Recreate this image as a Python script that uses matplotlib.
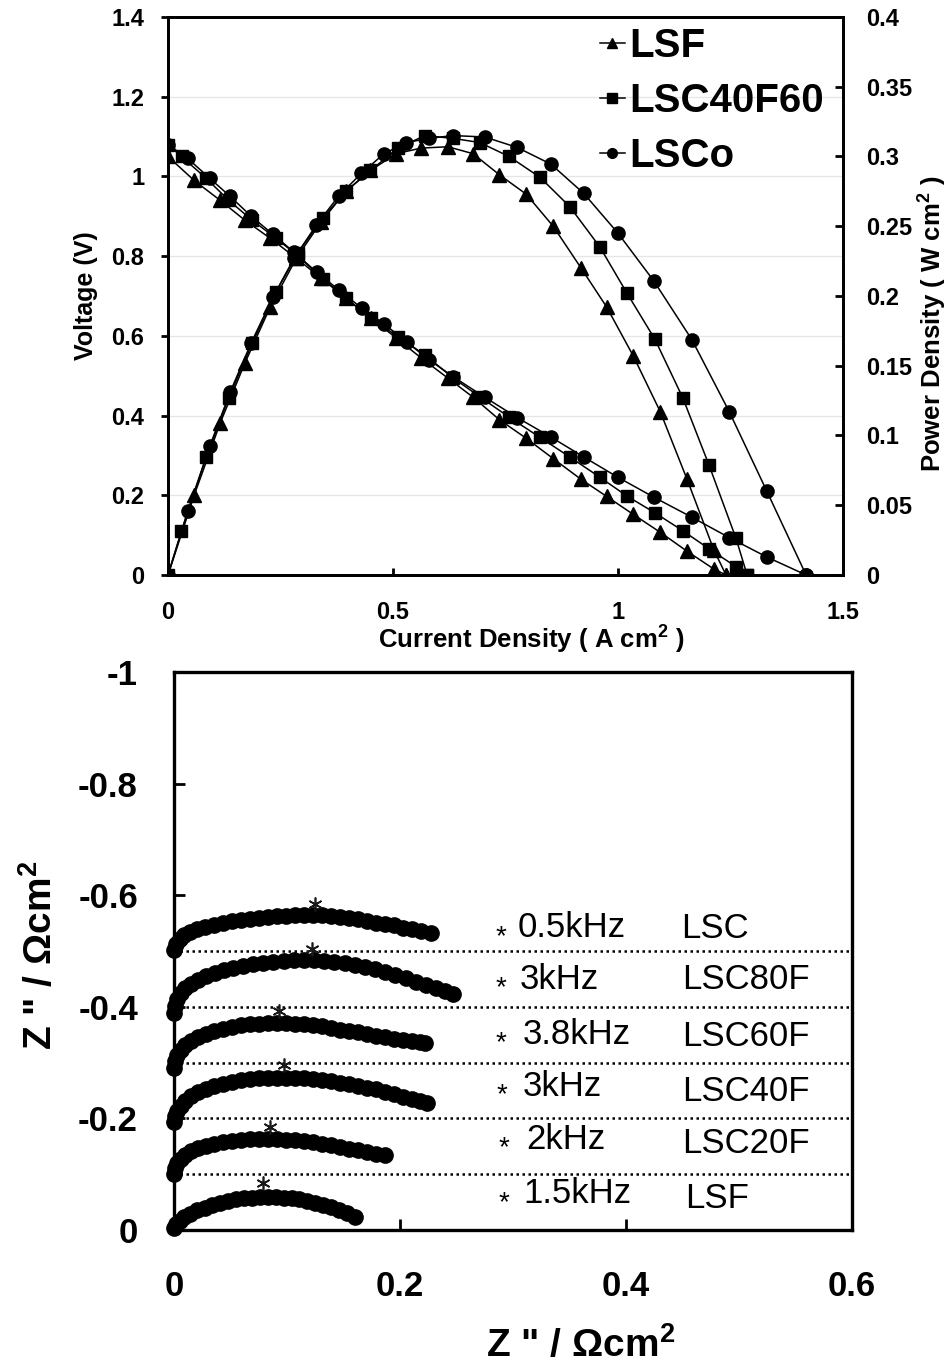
import matplotlib
matplotlib.use("Agg")
import matplotlib.pyplot as plt
from matplotlib.lines import Line2D
from matplotlib.ticker import FixedLocator, FuncFormatter

plt.rcParams['font.family'] = ['Liberation Sans', 'DejaVu Sans']
plt.rcParams['axes.unicode_minus'] = False
plt.rcParams['mathtext.fontset'] = 'custom'
plt.rcParams['mathtext.rm'] = 'Liberation Sans:bold'
plt.rcParams['mathtext.it'] = 'Liberation Sans:bold'
plt.rcParams['mathtext.bf'] = 'Liberation Sans:bold'
plt.rcParams['mathtext.default'] = 'rm'

# ---------------- I-V-P data (current A/cm2, voltage V, power W/cm2) ----------------
lsf_i = [0.0, 0.058, 0.116, 0.171, 0.227, 0.285, 0.34, 0.395, 0.45, 0.507, 0.562, 0.622,
         0.678, 0.736, 0.796, 0.856, 0.918, 0.975, 1.034, 1.094, 1.153, 1.213, 1.24]
lsf_v = [1.05, 0.99, 0.94, 0.89, 0.845, 0.795, 0.745, 0.695, 0.645, 0.595, 0.545, 0.494,
         0.446, 0.39, 0.343, 0.292, 0.24, 0.197, 0.152, 0.107, 0.06, 0.015, 0.0]
lsf_p = [0.0, 0.057, 0.109, 0.152, 0.192, 0.227, 0.253, 0.275, 0.29, 0.302, 0.306, 0.307,
         0.302, 0.287, 0.273, 0.25, 0.22, 0.192, 0.157, 0.117, 0.069, 0.018, 0.0]

lsc40_i = [0.0, 0.03, 0.085, 0.135, 0.187, 0.24, 0.289, 0.344, 0.395, 0.45, 0.511, 0.571,
           0.633, 0.693, 0.758, 0.827, 0.893, 0.96, 1.02, 1.082, 1.144, 1.202, 1.262, 1.287]
lsc40_v = [1.08, 1.05, 0.995, 0.94, 0.89, 0.845, 0.80, 0.743, 0.695, 0.645, 0.598, 0.552,
           0.495, 0.447, 0.396, 0.345, 0.296, 0.245, 0.198, 0.156, 0.111, 0.066, 0.021, 0.0]
lsc40_p = [0.0, 0.0315, 0.0846, 0.127, 0.166, 0.203, 0.231, 0.256, 0.275, 0.29, 0.306, 0.315,
           0.313, 0.31, 0.30, 0.285, 0.264, 0.235, 0.202, 0.169, 0.127, 0.079, 0.0265, 0.0]

lsco_i = [0.0, 0.044, 0.093, 0.138, 0.185, 0.233, 0.28, 0.33, 0.38, 0.43, 0.48, 0.53,
          0.58, 0.633, 0.704, 0.776, 0.851, 0.924, 1.0, 1.08, 1.164, 1.247, 1.331, 1.418]
lsco_v = [1.08, 1.045, 0.995, 0.95, 0.90, 0.855, 0.81, 0.76, 0.715, 0.67, 0.63, 0.585,
          0.54, 0.498, 0.446, 0.395, 0.346, 0.296, 0.245, 0.195, 0.145, 0.094, 0.045, 0.0]
lsco_p = [0.0, 0.046, 0.0925, 0.131, 0.1665, 0.199, 0.227, 0.251, 0.272, 0.288, 0.302, 0.31,
          0.313, 0.315, 0.314, 0.3065, 0.2945, 0.2735, 0.245, 0.2106, 0.1688, 0.1172, 0.0599, 0.0]

iv_labels = ['LSF', 'LSC40F60', 'LSCo']
iv_markers = ['^', 's', 'o']

# ---------------- impedance arcs (Z' and Z'' in ohm cm2) ----------------
lsc_zr = [0.000, 0.002, 0.005, 0.009, 0.014, 0.020, 0.027, 0.035, 0.043, 0.051, 0.059, 0.067,
          0.075, 0.083, 0.091, 0.099, 0.107, 0.115, 0.123, 0.131, 0.139, 0.147, 0.155, 0.163,
          0.171, 0.179, 0.187, 0.195, 0.203, 0.211, 0.219, 0.227]
lsc_zi = [-0.502, -0.512, -0.521, -0.528, -0.534, -0.539, -0.543, -0.547, -0.551, -0.554, -0.556,
          -0.558, -0.560, -0.561, -0.562, -0.563, -0.564, -0.564, -0.564, -0.564, -0.563, -0.561,
          -0.559, -0.557, -0.554, -0.551, -0.549, -0.546, -0.542, -0.539, -0.536, -0.533]

lsc80f_zr = [0.000, 0.001, 0.003, 0.006, 0.010, 0.015, 0.021, 0.028, 0.036, 0.044, 0.052, 0.061,
             0.070, 0.079, 0.088, 0.097, 0.106, 0.115, 0.124, 0.133, 0.142, 0.151, 0.160, 0.169,
             0.178, 0.187, 0.196, 0.205, 0.214, 0.223, 0.232, 0.240, 0.247]
lsc80f_zi = [-0.389, -0.402, -0.414, -0.424, -0.433, -0.441, -0.448, -0.455, -0.461, -0.466, -0.470,
             -0.474, -0.477, -0.479, -0.481, -0.482, -0.483, -0.483, -0.483, -0.482, -0.480, -0.478,
             -0.475, -0.471, -0.467, -0.462, -0.457, -0.451, -0.445, -0.439, -0.433, -0.428, -0.423]

lsc60f_zr = [0.000, 0.001, 0.003, 0.006, 0.010, 0.015, 0.021, 0.028, 0.035, 0.043, 0.051, 0.059,
             0.067, 0.075, 0.083, 0.091, 0.099, 0.107, 0.115, 0.123, 0.131, 0.139, 0.147, 0.155,
             0.163, 0.171, 0.179, 0.187, 0.195, 0.203, 0.211, 0.218, 0.222]
lsc60f_zi = [-0.291, -0.302, -0.313, -0.322, -0.331, -0.339, -0.346, -0.352, -0.357, -0.361, -0.364,
             -0.367, -0.369, -0.370, -0.371, -0.371, -0.371, -0.370, -0.369, -0.367, -0.365, -0.362,
             -0.359, -0.357, -0.354, -0.351, -0.348, -0.345, -0.343, -0.341, -0.339, -0.337, -0.336]

lsc40f_zr = [0.000, 0.001, 0.003, 0.006, 0.010, 0.015, 0.021, 0.028, 0.035, 0.043, 0.051, 0.059,
             0.067, 0.075, 0.083, 0.091, 0.099, 0.107, 0.115, 0.123, 0.131, 0.139, 0.147, 0.155,
             0.163, 0.171, 0.179, 0.187, 0.195, 0.203, 0.211, 0.218, 0.224]
lsc40f_zi = [-0.193, -0.204, -0.214, -0.223, -0.232, -0.240, -0.247, -0.253, -0.258, -0.262, -0.265,
             -0.268, -0.270, -0.272, -0.273, -0.273, -0.273, -0.273, -0.272, -0.271, -0.269, -0.267,
             -0.264, -0.261, -0.258, -0.255, -0.252, -0.248, -0.244, -0.239, -0.235, -0.231, -0.227]

lsc20f_zr = [0.000, 0.001, 0.003, 0.006, 0.010, 0.015, 0.021, 0.028, 0.035, 0.043, 0.051, 0.059,
             0.067, 0.075, 0.083, 0.091, 0.099, 0.107, 0.115, 0.123, 0.131, 0.139, 0.147, 0.155,
             0.163, 0.171, 0.179, 0.187]
lsc20f_zi = [-0.101, -0.111, -0.120, -0.128, -0.135, -0.141, -0.147, -0.151, -0.155, -0.158, -0.160,
             -0.162, -0.163, -0.163, -0.163, -0.163, -0.162, -0.161, -0.159, -0.157, -0.155, -0.152,
             -0.149, -0.146, -0.143, -0.140, -0.137, -0.134]

lsf_zr = [0.000, 0.002, 0.005, 0.009, 0.014, 0.020, 0.027, 0.034, 0.041, 0.048, 0.055, 0.062,
          0.069, 0.076, 0.083, 0.090, 0.097, 0.104, 0.111, 0.118, 0.125, 0.132, 0.139, 0.146,
          0.153, 0.160]
lsf_zi = [-0.003, -0.010, -0.017, -0.023, -0.029, -0.035, -0.040, -0.045, -0.049, -0.052, -0.055,
          -0.057, -0.058, -0.059, -0.059, -0.059, -0.058, -0.057, -0.055, -0.052, -0.049, -0.045,
          -0.041, -0.036, -0.030, -0.023]

# summit-frequency points on each arc
peak_zr = [0.125, 0.122, 0.093, 0.097, 0.085, 0.079]
peak_zi = [-0.584, -0.504, -0.393, -0.295, -0.184, -0.084]

eis_names = ['LSC', 'LSC80F', 'LSC60F', 'LSC40F', 'LSC20F', 'LSF']
eis_freqs = ['0.5kHz', '3kHz', '3.8kHz', '3kHz', '2kHz', '1.5kHz']
baseline_offsets = [-0.5, -0.4, -0.3, -0.2, -0.1]

W, H = 948, 1368
fig = plt.figure(figsize=(W / 100, H / 100), dpi=100)
fmt = FuncFormatter(lambda v, p: f'{v:g}' if abs(v) > 1e-9 else '0')

# ====================== top panel: I-V and power curves ======================
ax1 = fig.add_axes([168 / W, 1 - 575 / H, (843 - 168) / W, (575 - 17) / H])
ax2 = ax1.twinx()

v_series = [(lsf_i, lsf_v), (lsc40_i, lsc40_v), (lsco_i, lsco_v)]
p_series = [(lsf_i, lsf_p), (lsc40_i, lsc40_p), (lsco_i, lsco_p)]
msizes = [9.5, 9, 9.5]
for (i, v), m, ms in zip(v_series, iv_markers, msizes):
    ax1.plot(i, v, color='black', lw=1.1, marker=m, ms=ms, zorder=3)
for (i, p), m, ms in zip(p_series, iv_markers, msizes):
    ax2.plot(i, p, color='black', lw=1.1, marker=m, ms=ms, zorder=3)

ax1.set_xlim(0, 1.5)
ax1.set_ylim(0, 1.4)
ax2.set_ylim(0, 0.4)
ax1.xaxis.set_major_locator(FixedLocator([0, 0.5, 1, 1.5]))
ax1.yaxis.set_major_locator(FixedLocator([0, 0.2, 0.4, 0.6, 0.8, 1.0, 1.2, 1.4]))
ax2.yaxis.set_major_locator(FixedLocator([0, 0.05, 0.1, 0.15, 0.2, 0.25, 0.3, 0.35, 0.4]))
for a in (ax1, ax2):
    a.xaxis.set_major_formatter(fmt)
    a.yaxis.set_major_formatter(fmt)
ax1.set_axisbelow(True)
ax1.yaxis.grid(True, color='#e6e6e6', lw=0.9)

for a in (ax1, ax2):
    for s in a.spines.values():
        s.set_linewidth(2.0)
ax1.tick_params(axis='y', direction='out', length=5, width=2, labelsize=17, pad=12)
ax1.tick_params(axis='x', direction='in', length=5, width=2, labelsize=17, pad=19)
ax2.tick_params(axis='y', direction='in', length=6, width=2, labelsize=17, pad=17)
for t in ax1.get_xticklabels() + ax1.get_yticklabels() + ax2.get_yticklabels():
    t.set_fontweight('bold')

ax1.set_ylabel('Voltage (V)', fontsize=18, fontweight='bold')
ax1.yaxis.set_label_coords(-0.104, 0.5)
ax1.set_xlabel(r'Current Density ( A cm$^{2}$ )', fontsize=18.5, fontweight='bold')
ax1.xaxis.set_label_coords(0.538, -0.088)
ax2.set_ylabel(r'Power Density ( W cm$^{2}$ )', fontsize=18.5, fontweight='bold')
ax2.yaxis.set_label_coords(1.11, 0.45)

handles = [Line2D([], [], color='black', lw=1.1, marker=m, ms=7) for m in iv_markers]
ax2.legend(handles, iv_labels, loc='upper left', bbox_to_anchor=(600 / W, 1 - 27 / H),
           bbox_transform=fig.transFigure, frameon=False, borderpad=0, borderaxespad=0,
           handlelength=0.62, handletextpad=0.1, labelspacing=0.42,
           prop={'size': 29, 'weight': 'bold'})

# ====================== bottom panel: impedance spectra ======================
ax3 = fig.add_axes([174 / W, 1 - 1230 / H, (852 - 174) / W, (1230 - 672) / H])
arcs = [(lsc_zr, lsc_zi), (lsc80f_zr, lsc80f_zi), (lsc60f_zr, lsc60f_zi),
        (lsc40f_zr, lsc40f_zi), (lsc20f_zr, lsc20f_zi), (lsf_zr, lsf_zi)]
for zr, zi in arcs:
    ax3.plot(zr, zi, linestyle='none', marker='o', ms=11, color='black', zorder=3,
             clip_on=False)
for off in baseline_offsets:
    ax3.axhline(off, color='black', lw=1.8, linestyle=(0, (1, 1.4)), zorder=2)
ax3.plot(peak_zr, peak_zi, linestyle='none', marker=(6, 2, 0), ms=10, mew=1.2,
         color='#1a1a1a', zorder=4)

ax3.set_xlim(0, 0.6)
ax3.set_ylim(0, -1)
ax3.xaxis.set_major_locator(FixedLocator([0, 0.2, 0.4, 0.6]))
ax3.yaxis.set_major_locator(FixedLocator([0, -0.2, -0.4, -0.6, -0.8, -1.0]))
ax3.xaxis.set_major_formatter(fmt)
ax3.yaxis.set_major_formatter(fmt)
for s in ax3.spines.values():
    s.set_linewidth(2.4)
    s.set_zorder(2.5)
ax3.tick_params(axis='x', direction='in', length=8, width=2, labelsize=25, pad=29)
ax3.tick_params(axis='y', direction='in', length=8, width=2, labelsize=25, pad=26)
for t in ax3.get_xticklabels() + ax3.get_yticklabels():
    t.set_fontweight('bold')

zlabel = 'Z " / \u03a9cm$^{2}$'
ax3.set_xlabel(zlabel, fontsize=28, fontweight='bold')
ax3.xaxis.set_label_coords(0.599, -0.172)
ax3.set_ylabel(zlabel, fontsize=28, fontweight='bold')
ax3.yaxis.set_label_coords(-0.168, 0.493)

freq_x = [0.304, 0.306, 0.309, 0.309, 0.312, 0.309]
freq_y = [-0.525, -0.432, -0.334, -0.241, -0.146, -0.048]
name_x = [0.449, 0.450, 0.450, 0.450, 0.450, 0.452]
name_y = [-0.523, -0.432, -0.329, -0.232, -0.1375, -0.039]
star_x = [0.289, 0.289, 0.289, 0.290, 0.292, 0.292]
for k in range(6):
    ax3.text(freq_x[k], freq_y[k], eis_freqs[k], fontsize=25, va='baseline', ha='left')
    ax3.text(name_x[k], name_y[k], eis_names[k], fontsize=25, va='baseline', ha='left')
    ax3.text(star_x[k], freq_y[k] + 0.012, '*', fontsize=20, va='baseline', ha='center')

fig.savefig('out.png', dpi=100)
